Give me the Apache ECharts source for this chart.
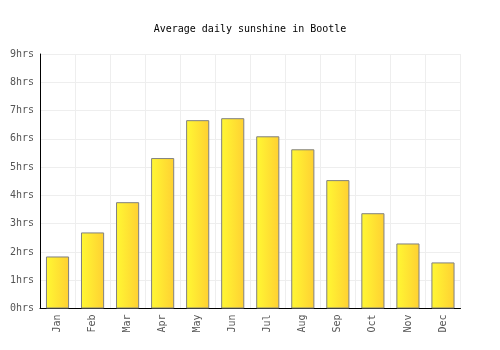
<!DOCTYPE html>
<html><head><meta charset="utf-8">
<script src="https://cdn.jsdelivr.net/npm/echarts@6/dist/echarts.min.js"></script>
<style>html,body{margin:0;padding:0;background:#fff}#c{width:500px;height:350px}</style>
</head><body><div id="c"></div>
<script>
var titleText = 'Average daily sunshine in Bootle';
var categories = ['Jan','Feb','Mar','Apr','May','Jun','Jul','Aug','Sep','Oct','Nov','Dec'];
var sunshine = [1.84, 2.69, 3.76, 5.32, 6.66, 6.73, 6.09, 5.63, 4.54, 3.37, 2.30, 1.63];
var yTicks = [0,1,2,3,4,5,6,7,8,9];

var chart = echarts.init(document.getElementById('c'), null, {renderer:'canvas'});
var font = '"DejaVu Sans Mono", monospace';
chart.setOption({
  animation:false,
  backgroundColor:'#fff',
  title:{text:titleText, left:'center', top:19,
    textStyle:{fontFamily:font, fontSize:10, fontWeight:'normal', color:'#000'}},
  grid:{left:40, right:39.5, top:54, bottom:41.5},
  xAxis:{type:'category', data:categories, boundaryGap:true,
    axisLine:{lineStyle:{color:'#000', width:1}},
    axisTick:{show:false},
    splitLine:{show:true, interval:0, lineStyle:{color:'#eeeeee'}},
    axisLabel:{rotate:90, interval:0, margin:6, fontFamily:font, fontSize:10, color:'#555'}},
  yAxis:{type:'value', min:yTicks[0], max:yTicks[yTicks.length-1], interval:1,
    axisLine:{show:true, lineStyle:{color:'#000', width:1}},
    axisTick:{show:false},
    splitLine:{lineStyle:{color:'#eeeeee'}},
    axisLabel:{margin:6, fontFamily:font, fontSize:10, color:'#555', formatter:function(v){return v+'hrs';}}},
  series:[{type:'bar', data:sunshine, barWidth:'66%',
    itemStyle:{borderColor:'#808080', borderWidth:1,
      color:new echarts.graphic.LinearGradient(0,0,1,0,[{offset:0,color:'#fff833'},{offset:1,color:'#ffd032'}])}}]
});
</script></body></html>
